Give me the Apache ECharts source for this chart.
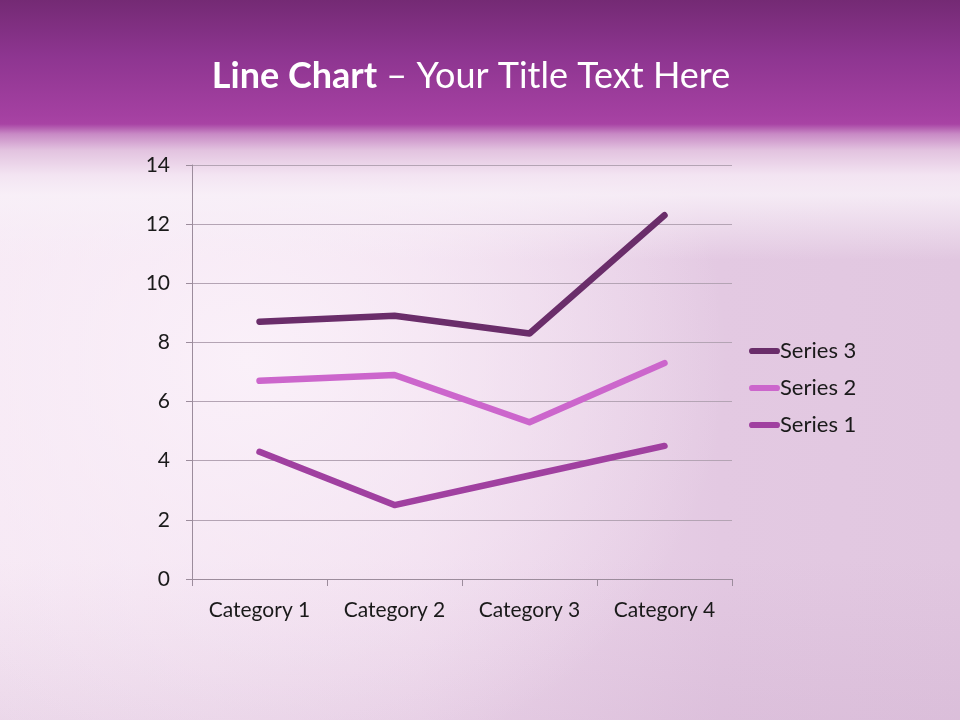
<!DOCTYPE html>
<html>
<head>
<meta charset="utf-8">
<script src="https://cdn.jsdelivr.net/npm/echarts@6/dist/echarts.min.js"></script>
<style>
html,body{margin:0;padding:0;}
#bg{position:absolute;left:0;top:0;width:960px;height:720px;
background:
 linear-gradient(to bottom, #742a74 0px, #8d3590 55px, #a440a1 115px, #a843a4 124px, #c88ac5 134px, #e2c2df 150px, #f3e4f2 175px, rgba(248,240,248,0.85) 195px, rgba(248,240,248,0) 260px),
 radial-gradient(ellipse 480px 430px at 250px 360px, rgba(251,242,250,0.9), rgba(251,242,250,0) 100%),
 linear-gradient(to bottom, rgba(0,0,0,0) 560px, rgba(190,150,190,0.18) 720px),
 linear-gradient(to right, #f5e6f3 0px, #efdaed 420px, #e3c9e2 720px, #e1c7e0 960px);
}
#main{position:absolute;left:0;top:0;width:960px;height:720px;}
</style>
</head>
<body>
<div id="bg"></div>
<div id="main"></div>
<script>
var categories = ['Category 1', 'Category 2', 'Category 3', 'Category 4'];
var series1 = [4.3, 2.5, 3.5, 4.5];
var series2 = [2.4, 4.4, 1.8, 2.8];
var series3 = [2, 2, 3, 5];
var yTicks = {min: 0, max: 14, interval: 2};

var chart = echarts.init(document.getElementById('main'), null, {renderer: 'canvas'});
var font = 'Lato, "Noto Sans", sans-serif';
var pill = 'path://M3,0 H27 A3,3 0 0 1 27,6 H3 A3,3 0 0 1 3,0 Z';
function mk(name, data, color) {
  return {
    name: name, type: 'line', stack: 'total', data: data, symbol: 'none',
    lineStyle: {color: color, width: 6.5, cap: 'round', join: 'round'},
    itemStyle: {color: color}
  };
}
chart.setOption({
  backgroundColor: 'transparent',
  textStyle: {fontFamily: font},
  title: {
    text: '{b|Line Chart} – Your Title Text Here',
    left: 466, top: 53, textAlign: 'center',
    textStyle: {
      color: '#ffffff', fontSize: 36, fontFamily: font, fontWeight: 'normal',
      rich: {b: {color: '#ffffff', fontSize: 36, fontWeight: 'bold', fontFamily: font}}
    }
  },
  legend: {
    orient: 'vertical', left: 744, top: 335, itemGap: 15,
    itemWidth: 31, itemHeight: 7,
    data: [
      {name: 'Series 3', icon: pill},
      {name: 'Series 2', icon: pill},
      {name: 'Series 1', icon: pill}
    ],
    textStyle: {color: '#1a1a1a', fontSize: 22, fontFamily: font, padding: [0, 0, 0, -5]}
  },
  grid: {left: 192, right: 228, top: 165, bottom: 141, containLabel: false},
  xAxis: {
    type: 'category', data: categories, boundaryGap: true,
    axisLine: {show: true, lineStyle: {color: '#9c8c9c', width: 1}},
    axisTick: {show: true, length: 7, lineStyle: {color: '#9c8c9c'}},
    axisLabel: {color: '#1a1a1a', fontSize: 21, margin: 21, fontFamily: font},
    splitLine: {show: false}
  },
  yAxis: {
    type: 'value', min: yTicks.min, max: yTicks.max, interval: yTicks.interval,
    axisLine: {show: true, lineStyle: {color: '#9c8c9c', width: 1}},
    axisTick: {show: true, length: 6, lineStyle: {color: '#9c8c9c'}},
    axisLabel: {color: '#1a1a1a', fontSize: 21, margin: 22, fontFamily: font},
    splitLine: {show: true, lineStyle: {color: '#b4a4b4', width: 1}}
  },
  series: [
    mk('Series 1', series1, '#a040a0'),
    mk('Series 2', series2, '#cc66cc'),
    mk('Series 3', series3, '#6a2d6a')
  ]
});
</script>
</body>
</html>
